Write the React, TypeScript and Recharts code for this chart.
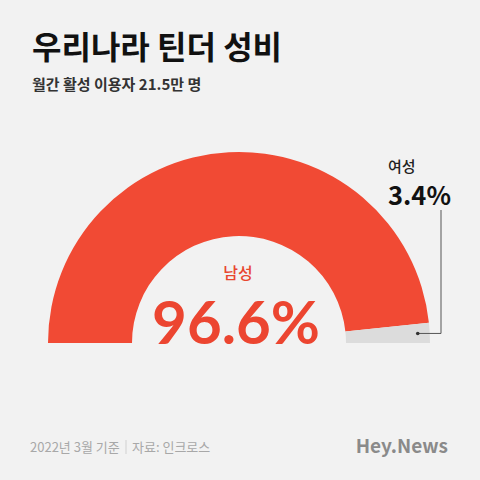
import { Cell, Pie, PieChart } from "recharts";

const genders = ["남성", "여성"];
const shares = [96.6, 3.4];
const sliceColors = ["#f14a34", "#dcdcdc"];

const title = "우리나라 틴더 성비";
const subtitle = "월간 활성 이용자 21.5만 명";
const note = "2022년 3월 기준";
const source = "자료: 인크로스";
const brand = "Hey.News";

const data = genders.map((name, i) => ({ name, value: shares[i] }));

const KR = "'Noto Sans CJK KR', 'Noto Sans', sans-serif";
const RAD = Math.PI / 180;

// callout for the small slice: dot inside the arc, elbow line up to the label
const renderCallout = (props: any) => {
  const { cx, cy, midAngle, outerRadius, index, name, value } = props;
  if (index !== 1) return null;
  const r = outerRadius - 12;
  const px = cx + r * Math.cos(-midAngle * RAD);
  const py = cy + r * Math.sin(-midAngle * RAD);
  const lineX = cx + outerRadius + 11;
  const topY = 210;
  return (
    <g>
      <polyline
        points={`${px},${py} ${lineX},${py} ${lineX},${topY}`}
        fill="none"
        stroke="#555"
        strokeWidth={1}
      />
      <circle cx={px} cy={py} r={1.8} fill="#333" />
      <text x={lineX - 53} y={172} fontFamily={KR} fontSize={15} fontWeight={500} fill="#222">
        {name}
      </text>
      <text x={lineX - 53} y={205} fontFamily={KR} fontSize={25.5} fontWeight={700} fill="#111">
        {`${value}%`}
      </text>
    </g>
  );
};

const App = () => {
  return (
    <div style={{ position: "fixed", left: 0, top: 0, width: 480, height: 480, background: "#f2f2f2" }}>
      <PieChart width={480} height={480} margin={{ top: 0, right: 0, bottom: 0, left: 0 }}>
        <text x={32} y={59} fontFamily={KR} fontSize={32} fontWeight={700} fill="#111">
          {title}
        </text>
        <text x={32} y={90} fontFamily={KR} fontSize={15} fontWeight={700} fill="#333">
          {subtitle}
        </text>
        <Pie
          data={data}
          dataKey="value"
          nameKey="name"
          cx={239}
          cy={343}
          startAngle={180}
          endAngle={0}
          innerRadius={107}
          outerRadius={191}
          stroke="none"
          label={renderCallout}
          labelLine={false}
          isAnimationActive={false}
        >
          {data.map((d, i) => (
            <Cell key={d.name} fill={sliceColors[i]} />
          ))}
        </Pie>
        <text x={238} y={279} textAnchor="middle" fontFamily={KR} fontSize={16} fontWeight={500} fill="#e8462f">
          {genders[0]}
        </text>
        <text x={236} y={344} textAnchor="middle" fontFamily="Lato, 'Noto Sans', sans-serif" fontSize={60} fontWeight={700} fill="#ec4530">
          {`${shares[0]}%`}
        </text>
        <text x={30} y={452} fontFamily={KR} fontSize={13} fill="#a8a8a8">
          {note}
        </text>
        <line x1={126} y1={440} x2={126} y2={454} stroke="#d0d0d0" strokeWidth={1} />
        <text x={132} y={452} fontFamily={KR} fontSize={13} fill="#a8a8a8">
          {source}
        </text>
        <text x={448} y={453} textAnchor="end" fontFamily={KR} fontSize={19} fontWeight={700} fill="#8a8a8a">
          {brand}
        </text>
      </PieChart>
    </div>
  );
};

export default App;
